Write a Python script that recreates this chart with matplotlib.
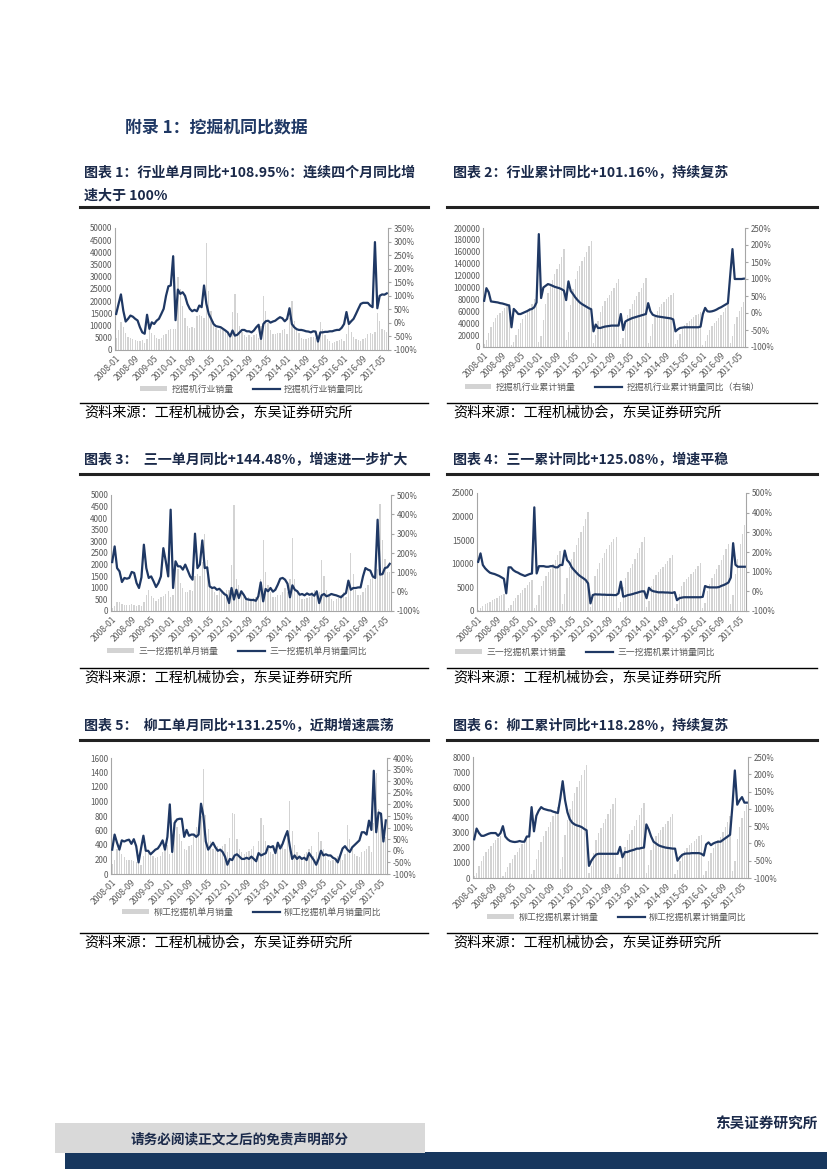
import matplotlib
matplotlib.use("Agg")
import matplotlib.pyplot as plt
import numpy as np
from matplotlib.patches import Patch, Rectangle
from matplotlib.lines import Line2D

plt.rcParams['font.family'] = ['Noto Sans CJK SC', 'DejaVu Sans']
plt.rcParams['axes.unicode_minus'] = False

W, H = 827, 1169
NAVY = '#1f3864'
BAR = '#d3d3d3'
GREY_TXT = '#595959'
TITLE_C = '#1b2a4a'

# x axis: monthly, 2008-01 .. 2017-07, a label every 8 months
tick_labels = ['2008-01', '2008-09', '2009-05', '2010-01', '2010-09', '2011-05',
               '2012-01', '2012-09', '2013-05', '2014-01', '2014-09', '2015-05',
               '2016-01', '2016-09', '2017-05']

# chart 1: industry monthly sales / yoy (%)
ind_sales = [5000, 8000, 11500, 9500, 7000, 5500, 5000, 4500, 4000, 3500, 3500, 4000,
             3000, 4500, 8000, 7000, 6000, 5000, 4500, 5000, 6000, 6500, 8000, 8500,
             8500, 8500, 30000, 25000, 18000, 13000, 10000, 9000, 9500, 9000, 14000, 14500,
             14000, 13000, 44000, 24000, 16000, 12000, 9000, 8000, 8500, 8000, 7500, 7500,
             6000, 15500, 23000, 15000, 10000, 7500, 6000, 5500, 6000, 5500, 6000, 6500,
             5000, 10000, 22000, 16000, 11000, 8000, 6500, 6500, 7000, 7000, 8000, 8500,
             6500, 13000, 20000, 12000, 8500, 7000, 5000, 4500, 4700, 5000, 5500, 5500,
             5000, 6000, 11500, 8500, 6000, 4500, 3500, 3000, 3200, 3500, 4000, 4500,
             3500, 6500, 11000, 7500, 5500, 4500, 4000, 3500, 4500, 5000, 6500, 7000,
             6500, 7500, 15000, 12000, 8500, 8000, 7500]
ind_yoy = [33, 70, 105, 45, 5, 15, 27, 23, 15, 9, -16, -35,
           -40, 30, -22, 2, -4, 8, 15, 33, 52, 100, 135, 138,
           246, 10, 123, 107, 113, 100, 70, 52, 43, 48, 43, 64,
           58, 138, 70, 33, 15, -4, -12, -14, -16, -22, -28, -35,
           -50, -28, -47, -44, -35, -26, -26, -31, -31, -35, -28, -16,
           -7, -59, -4, 6, 8, 1, 5, 8, 15, 21, 17, 6,
           15, 54, -4, -16, -23, -26, -26, -28, -31, -32, -35, -31,
           -32, -69, -35, -35, -33, -33, -31, -31, -28, -26, -26, -18,
           -4, 40, -4, 6, 15, 33, 52, 70, 74, 74, 74, 64,
           58, 298, 54, 100, 105, 104, 109]

# chart 2: industry cumulative sales / yoy (%)
ind_cum = [5000, 12000, 24000, 34000, 42000, 48000, 53000, 57000, 61000, 65000, 69000, 73000,
           3000, 9000, 20000, 31000, 40000, 47000, 53000, 59000, 65000, 72000, 80000, 90000,
           9000, 18000, 46000, 72000, 90000, 103000, 113000, 122000, 131000, 140000, 152000, 165000,
           12000, 26000, 70000, 97000, 114000, 127000, 136000, 144000, 152000, 160000, 169000, 178000,
           6000, 21000, 44000, 59000, 69000, 77000, 83000, 88000, 94000, 100000, 107000, 114000,
           5000, 15000, 37000, 53000, 64000, 72000, 79000, 86000, 93000, 100000, 108000, 116000,
           6500, 19000, 39000, 51000, 60000, 67000, 72000, 76000, 80000, 84000, 88000, 91000,
           5000, 11000, 22000, 31000, 37000, 41000, 44000, 47000, 50000, 53000, 56000, 58000,
           3500, 10000, 21000, 29000, 35000, 40000, 44000, 48000, 53000, 58000, 65000, 72000,
           7000, 18000, 38000, 50000, 60000, 68000, 76000]
ind_cum_yoy = [36, 73, 61, 34, 33, 32, 31, 29, 28, 26, 24, 22,
               -42, 12, 5, -3, -3, 0, 3, 6, 10, 12, 17, 31,
               232, 44, 75, 80, 85, 83, 80, 77, 75, 73, 70, 66,
               38, 93, 65, 56, 46, 38, 31, 26, 22, 18, 14, 11,
               -54, -34, -44, -44, -42, -40, -39, -38, -37, -37, -37, -37,
               -3, -50, -25, -21, -18, -15, -13, -11, -9, -7, -5, -3,
               29, 5, -5, -8, -10, -11, -12, -13, -14, -15, -16, -19,
               -54, -48, -44, -43, -42, -42, -42, -42, -42, -42, -42, -40,
               -3, 15, 5, 4, 5, 7, 10, 14, 17, 21, 25, 29,
               110, 188, 100, 100, 100, 100, 101]

# chart 3: Sany monthly
sany_sales = [150, 200, 400, 400, 300, 250, 280, 280, 300, 250, 220, 250,
              200, 400, 700, 900, 650, 550, 450, 500, 600, 650, 750, 850,
              600, 700, 2100, 1800, 1200, 1000, 800, 800, 900, 850, 1500, 1600,
              1500, 2100, 3300, 2200, 1300, 1000, 800, 700, 850, 850, 800, 900,
              900, 2000, 4550, 1400, 1100, 800, 600, 500, 600, 500, 550, 600,
              600, 1400, 3050, 1700, 1100, 800, 600, 600, 700, 700, 800, 1000,
              800, 1400, 3150, 1400, 900, 650, 500, 500, 550, 600, 800, 900,
              700, 800, 2200, 1500, 900, 700, 500, 450, 500, 550, 700, 800,
              600, 1100, 2500, 1600, 900, 700, 700, 800, 1000, 1100, 1400, 1600,
              1500, 1800, 4600, 3050, 2250, 1700, 1700]
sany_yoy = [153, 234, 122, 105, 50, 71, 67, 71, 102, 97, 45, 19,
            74, 243, 122, 71, 79, 53, 24, 45, 79, 225, 157, 79,
            424, 19, 157, 131, 131, 114, 140, 110, 79, 62, 300, 122,
            140, 265, 122, 126, 28, 19, 22, 10, 15, 2, -12, -19,
            -59, 19, -41, 10, -33, 2, -16, -38, -41, -43, -43, -47,
            -24, 48, -50, 14, 2, 19, 0, 10, 36, 67, 71, 62,
            41, -29, 33, 10, 2, -16, -12, -19, -9, -16, -12, -21,
            2, -59, -19, -12, -24, -19, -12, -16, -19, -24, -29, -16,
            -7, 57, 10, 19, 19, 22, 22, 79, 122, 114, 109, 79,
            71, 372, 88, 91, 122, 126, 144]

# chart 4: Sany cumulative
sany_cum = [300, 600, 1000, 1400, 1700, 2000, 2300, 2550, 2850, 3100, 3300, 3550,
            200, 600, 1300, 2200, 2850, 3400, 3850, 4350, 4950, 5600, 6100, 6600,
            600, 1300, 3400, 5200, 6400, 7400, 8200, 9000, 9900, 10700, 11800, 12800,
            1500, 3600, 7000, 9300, 11000, 12500, 14000, 15500, 16800, 18000, 19500, 21000,
            900, 2900, 7400, 9000, 10200, 11300, 12300, 13200, 14000, 14700, 15300, 15700,
            600, 2000, 5100, 7000, 8200, 9100, 10000, 11000, 12200, 13400, 14600, 15600,
            800, 2200, 5300, 6700, 7600, 8300, 8900, 9400, 10000, 10600, 11200, 11800,
            700, 1500, 3700, 5200, 6100, 6800, 7300, 7800, 8300, 8900, 9500, 10100,
            600, 1700, 4200, 5800, 6900, 7800, 8800, 9800, 10800, 11900, 13100, 14300,
            1500, 3300, 7900, 11000, 14300, 16400, 18200]
sany_cum_yoy = [150, 193, 134, 117, 105, 95, 91, 88, 83, 78, 71, 64,
                -10, 122, 122, 108, 100, 95, 88, 83, 78, 83, 88, 91,
                427, 91, 128, 128, 128, 125, 125, 128, 128, 122, 122, 134,
                134, 207, 159, 146, 122, 108, 95, 83, 74, 66, 57, 40,
                -61, -19, -15, -16, -16, -17, -17, -18, -18, -18, -19, -19,
                -10, 49, -27, -24, -19, -17, -14, -10, -7, -3, 0, 0,
                -35, 18, 5, 0, -2, -5, -5, -5, -6, -6, -7, -8,
                -4, -45, -35, -32, -30, -30, -30, -30, -30, -30, -30, -30,
                -28, 27, 22, 20, 20, 20, 20, 22, 28, 32, 38, 45,
                70, 245, 135, 125, 125, 125, 125]

# chart 5: Liugong monthly
lg_sales = [140, 200, 350, 330, 280, 230, 200, 190, 200, 180, 170, 150,
            120, 250, 300, 300, 280, 250, 220, 230, 250, 300, 380, 400,
            280, 300, 750, 650, 550, 450, 350, 330, 380, 400, 550, 650,
            600, 800, 1450, 810, 620, 450, 350, 330, 380, 330, 380, 420,
            300, 500, 840, 830, 480, 350, 300, 280, 300, 320, 350, 380,
            250, 450, 770, 670, 450, 350, 300, 280, 350, 380, 420, 450,
            350, 500, 1010, 600, 400, 300, 250, 230, 280, 300, 350, 380,
            250, 300, 580, 450, 350, 250, 200, 180, 200, 220, 250, 300,
            200, 280, 670, 480, 350, 280, 250, 230, 300, 320, 350, 380,
            300, 700, 1400, 900, 790, 560, 510]
lg_yoy = [5, 70, 35, 5, 45, 40, 45, 48, 30, 50, 20, -50,
          10, 65, 0, 0, -15, -5, 5, 10, 25, 45, 5, 60,
          200, -5, 120, 135, 138, 138, 60, 90, 65, 70, 70, 60,
          70, 203, 150, 40, 5, 20, 35, 15, 0, 5, -5, -25,
          -60, -35, -40, -20, -15, -25, -35, -35, -30, -35, -25, -35,
          -45, -10, -20, -15, -10, 20, 15, 20, -10, 35, 10, 30,
          60, 85, 20, -35, -20, -35, -25, -35, -30, -40, -10, -25,
          -40, -60, -35, 0, -20, -15, -20, -20, -30, -35, -50, -20,
          10, 20, 5, -5, 15, 25, 35, 45, 80, 80, 70, 130,
          90, 345, 80, 165, 160, 40, 131]

# chart 6: Liugong cumulative
lg_cum = [150, 350, 800, 1150, 1450, 1700, 1900, 2100, 2300, 2500, 2650, 2800,
          120, 370, 700, 1000, 1280, 1530, 1750, 1980, 2230, 2500, 2700, 2900,
          280, 560, 1250, 1850, 2350, 2750, 3080, 3380, 3730, 4080, 4400, 4700,
          600, 1400, 2850, 3850, 4550, 5100, 5600, 6000, 6400, 6800, 7150, 7500,
          300, 800, 1650, 2500, 2980, 3330, 3630, 3910, 4210, 4530, 4900, 5300,
          250, 700, 1480, 2080, 2530, 2880, 3180, 3460, 3810, 4190, 4610, 4950,
          350, 850, 1860, 2400, 2750, 3000, 3200, 3380, 3580, 3800, 4020, 4250,
          250, 550, 1100, 1500, 1800, 2000, 2150, 2300, 2450, 2600, 2750, 2850,
          200, 480, 1150, 1630, 1980, 2260, 2510, 2740, 3040, 3360, 3710, 4090,
          450, 1150, 2550, 3400, 4000, 4450, 4800]
lg_cum_yoy = [12, 43, 30, 22, 22, 25, 28, 30, 30, 30, 22, 30,
              50, 20, 12, 7, 5, 4, 5, 7, 5, 5, 20, 20,
              105, 35, 80, 95, 105, 100, 98, 96, 95, 92, 90, 88,
              130, 180, 125, 90, 70, 60, 55, 52, 50, 47, 42, 38,
              -65, -50, -40, -32, -30, -30, -30, -30, -30, -30, -30, -30,
              -30, -10, -40, -25, -25, -22, -20, -18, -15, -15, -13, -12,
              55, 40, 20, 5, 0, -5, -8, -10, -12, -13, -14, -15,
              -15, -50, -40, -33, -30, -29, -29, -28, -28, -28, -28, -30,
              -35, -3, 3, -5, 0, 3, 5, 5, 10, 15, 20, 25,
              110, 211, 112, 125, 134, 118, 118]


def rect(x0, y0, x1, y1):
    return [x0 / W, 1 - y1 / H, (x1 - x0) / W, (y1 - y0) / H]


def fig_y(y):
    return 1 - y / H


def hline(fig, x0, x1, y, lw, color='black'):
    fig.add_artist(Line2D([x0 / W, x1 / W], [fig_y(y)] * 2, transform=fig.transFigure,
                          color=color, lw=lw))


def draw_chart(fig, box, bars, yoy, lmax, lstep, rmin, rmax, rstep, names, leg_xy):
    ax = fig.add_axes(rect(*box))
    x = np.arange(len(bars))
    ax.bar(x, bars, width=0.55, color=BAR, linewidth=0)
    ax.set_xlim(-0.5, len(bars) - 0.5)
    ax.set_ylim(0, lmax)
    ax.set_yticks(np.arange(0, lmax + 1, lstep))
    ax.set_xticks(np.arange(0, len(bars), 8))
    ax.set_xticklabels(tick_labels, rotation=45, ha='right', rotation_mode='anchor')
    ax.tick_params(axis='x', length=0, labelsize=6.2, colors=GREY_TXT, pad=3)
    ax.tick_params(axis='y', length=0, labelsize=5.8, colors=GREY_TXT, pad=2)
    for s in ['top', 'right']:
        ax.spines[s].set_visible(False)
    for s in ['left', 'bottom']:
        ax.spines[s].set_color('#a6a6a6')
        ax.spines[s].set_linewidth(0.8)

    ax2 = ax.twinx()
    ax2.plot(x, yoy, color=NAVY, lw=1.6, solid_joinstyle='round')
    ax2.set_ylim(rmin, rmax)
    rt = np.arange(rmin, rmax + 1, rstep)
    ax2.set_yticks(rt)
    ax2.set_yticklabels([f'{v}%' for v in rt])
    ax2.tick_params(axis='y', length=2.5, width=0.8, color='#a6a6a6', labelsize=5.8,
                    colors=GREY_TXT, pad=1.5)
    for s in ['top', 'left', 'bottom']:
        ax2.spines[s].set_visible(False)
    ax2.spines['right'].set_color('#a6a6a6')
    ax2.spines['right'].set_linewidth(0.8)

    handles = [Patch(facecolor=BAR, edgecolor='none'), Line2D([], [], color=NAVY, lw=1.6)]
    fig.legend(handles, names, loc='center', bbox_to_anchor=(leg_xy[0] / W, fig_y(leg_xy[1])),
               ncol=2, frameon=False, fontsize=6.4, labelcolor=GREY_TXT, handlelength=3.0,
               handleheight=0.55, columnspacing=2.2, handletextpad=0.5)


fig = plt.figure(figsize=(W / 100, H / 100), dpi=100)

fig.text(125 / W, fig_y(128), '附录 1：挖掘机同比数据', fontsize=12.2, fontweight='bold',
         color=NAVY, va='center')

titles = [
    (84, 173, '图表 1：行业单月同比+108.95%：连续四个月同比增'),
    (84, 196, '速大于 100%'),
    (453, 173, '图表 2：行业累计同比+101.16%，持续复苏'),
    (84, 460, '图表 3：  三一单月同比+144.48%，增速进一步扩大'),
    (453, 460, '图表 4：三一累计同比+125.08%，增速平稳'),
    (84, 726, '图表 5：  柳工单月同比+131.25%，近期增速震荡'),
    (453, 726, '图表 6：柳工累计同比+118.28%，持续复苏'),
]
for tx, ty, s in titles:
    fig.text(tx / W, fig_y(ty), s, fontsize=10.1, fontweight='bold', color=TITLE_C, va='center')

src = '资料来源：工程机械协会，东吴证券研究所'
for ty_line, ty_src in [(207, 413), (474, 678), (740, 943)]:
    hline(fig, 80, 428, ty_line, 2.2, '#222222')
    hline(fig, 447, 817, ty_line, 2.2, '#222222')
    hline(fig, 80, 428, ty_src - 10, 1.0)
    hline(fig, 447, 817, ty_src - 10, 1.0)
    fig.text(84 / W, fig_y(ty_src), src, fontsize=10.2, color='black', va='center')
    fig.text(453 / W, fig_y(ty_src), src, fontsize=10.2, color='black', va='center')

draw_chart(fig, (115, 228, 388, 350), ind_sales, ind_yoy, 50000, 5000, -100, 350, 50,
           ['挖掘机行业销量', '挖掘机行业销量同比'], (252, 389))
draw_chart(fig, (483, 228, 745, 347), ind_cum, ind_cum_yoy, 200000, 20000, -100, 250, 50,
           ['挖掘机行业累计销量', '挖掘机行业累计销量同比（右轴）'], (612, 387))
draw_chart(fig, (111, 495, 391, 611), sany_sales, sany_yoy, 5000, 500, -100, 500, 100,
           ['三一挖掘机单月销量', '三一挖掘机单月销量同比'], (237, 651))
draw_chart(fig, (477, 493, 746, 611), sany_cum, sany_cum_yoy, 25000, 5000, -100, 500, 100,
           ['三一挖掘机累计销量', '三一挖掘机累计销量同比'], (585, 652))
draw_chart(fig, (111, 758, 387, 874), lg_sales, lg_yoy, 1600, 200, -100, 400, 50,
           ['柳工挖掘机单月销量', '柳工挖掘机单月销量同比'], (252, 912))
draw_chart(fig, (473, 757, 748, 878), lg_cum, lg_cum_yoy, 8000, 1000, -100, 250, 50,
           ['柳工挖掘机累计销量', '柳工挖掘机累计销量同比'], (617, 917))

# footer
fig.add_artist(Rectangle((65 / W, 0), 1 - 65 / W, (H - 1152) / H, transform=fig.transFigure,
                         facecolor='#17375e', edgecolor='none'))
fig.add_artist(Rectangle((55 / W, fig_y(1153)), 370 / W, 30 / H, transform=fig.transFigure,
                         facecolor='#d9d9d9', edgecolor='none'))
fig.text(240 / W, fig_y(1139), '请务必阅读正文之后的免责声明部分', fontsize=9.8, fontweight='bold',
         color=TITLE_C, ha='center', va='center')
fig.text(818 / W, fig_y(1124), '东吴证券研究所', fontsize=10.5, fontweight='bold',
         color=TITLE_C, ha='right', va='center')

fig.savefig('out.png', dpi=100)
